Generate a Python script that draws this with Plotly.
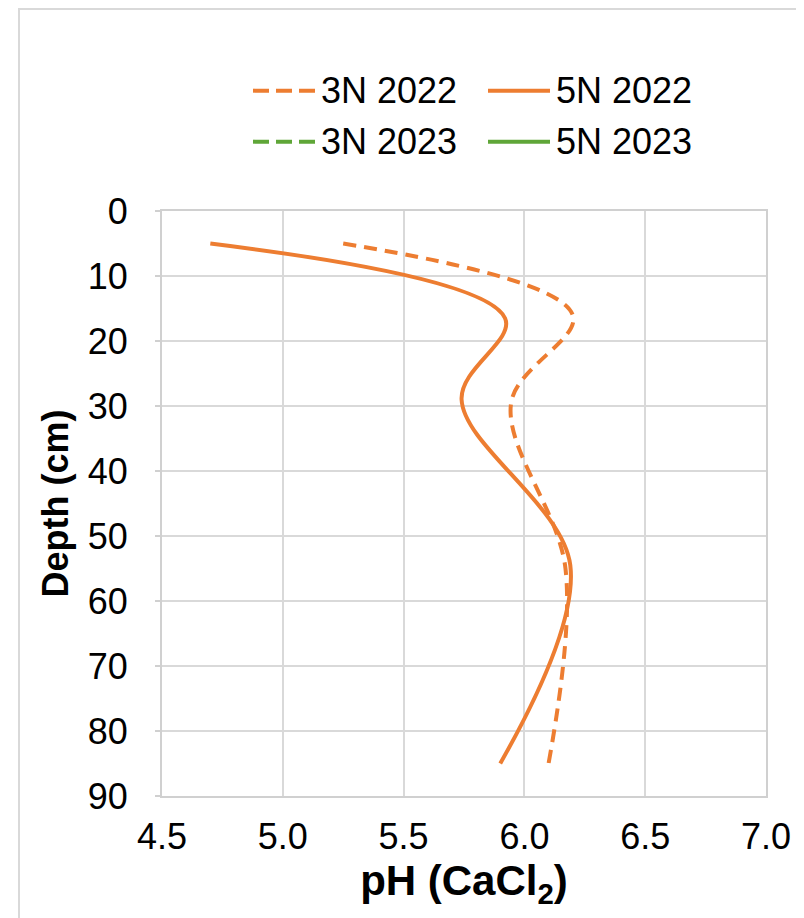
import plotly.graph_objects as go

# ---- data ----
depth_3n_2022 = [5, 16, 29.5, 55, 85]
ph_3n_2022 = [5.25, 6.20, 5.945, 6.17, 6.10]

depth_5n_2022 = [5, 16.5, 29, 54.5, 85]
ph_5n_2022 = [4.70, 5.92, 5.74, 6.19, 5.90]

series_names = ["3N 2022", "5N 2022", "3N 2023", "5N 2023"]
x_ticks = [4.5, 5.0, 5.5, 6.0, 6.5, 7.0]
y_ticks = [0, 10, 20, 30, 40, 50, 60, 70, 80, 90]

ORANGE = "#ED7D31"
GREEN = "#5FA638"
FONT = "Liberation Sans, Arial, sans-serif"

# The page body adds an 8px margin, so figure pixels = page pixels - 8
OFF = 8
W, H = 804 - OFF, 918 - OFF
L, R, T, B = 162 - OFF, 766 - OFF, 211 - OFF, 796 - OFF


def px2paper(px, py):
    """page pixel -> paper coordinate"""
    px -= OFF
    py -= OFF
    return (px - L) / (R - L), (B - py) / (B - T)


fig = go.Figure()
fig.add_trace(go.Scatter(x=ph_3n_2022, y=depth_3n_2022, mode="lines", name=series_names[0],
                         line=dict(color=ORANGE, width=4, dash="13px,8px", shape="spline", smoothing=1.0),
                         showlegend=False))
fig.add_trace(go.Scatter(x=ph_5n_2022, y=depth_5n_2022, mode="lines", name=series_names[1],
                         line=dict(color=ORANGE, width=4, shape="spline", smoothing=1.0),
                         showlegend=False))

shapes = []
annotations = []
# outer chart border
x0, y0 = px2paper(19, 9)
x1, y1 = px2paper(840, 950)
shapes.append(dict(type="rect", xref="paper", yref="paper", x0=x0, y0=y1, x1=x1, y1=y0,
                   line=dict(color="#d9d9d9", width=2), layer="below"))

# manual legend (long line samples as in the reference)
legend_items = [
    (series_names[0], ORANGE, "16px,7px", 253, 90.7),
    (series_names[1], ORANGE, "solid", 488, 90.7),
    (series_names[2], GREEN, "16px,7px", 253, 141.7),
    (series_names[3], GREEN, "solid", 488, 141.7),
]
for name, col, dash, lx, ly in legend_items:
    ax0, ay = px2paper(lx, ly)
    ax1, _ = px2paper(lx + 62, ly)
    shapes.append(dict(type="line", xref="paper", yref="paper", x0=ax0, x1=ax1, y0=ay, y1=ay,
                       line=dict(color=col, width=4, dash=dash)))
    tx, _ = px2paper(lx + 66, ly)
    annotations.append(dict(text=name, xref="paper", yref="paper", x=tx, y=ay, xanchor="left",
                            yanchor="middle", showarrow=False, font=dict(size=36, color="black", family=FONT)))

fig.update_layout(
    width=W, height=H,
    margin=dict(l=L, r=W - R, t=T, b=H - B, autoexpand=False),
    paper_bgcolor="white", plot_bgcolor="white",
    font=dict(family=FONT, color="black"),
    shapes=shapes, annotations=annotations,
    showlegend=False,
)
fig.update_xaxes(range=[4.5, 7.0], tickvals=x_ticks, ticktext=[f"{v:.1f}" for v in x_ticks],
                 showgrid=True, gridcolor="#d9d9d9", gridwidth=1.5,
                 showline=True, linecolor="#d0d0d0", linewidth=2, mirror=True,
                 ticks="", tickfont=dict(size=36), ticklabelstandoff=8,
                 title=dict(text="<b>pH (CaCl<sub>2</sub>)</b>", font=dict(size=42), standoff=0),
                 zeroline=False)
fig.update_yaxes(range=[90, 0], tickvals=y_ticks,
                 showgrid=True, gridcolor="#d9d9d9", gridwidth=1.5,
                 showline=True, linecolor="#d0d0d0", linewidth=2, mirror=True,
                 ticks="outside", ticklen=5, tickcolor="#d0d0d0", tickwidth=1.5,
                 tickfont=dict(size=36), ticklabelstandoff=20,
                 title=dict(text="<b>Depth (cm)</b>", font=dict(size=36), standoff=8),
                 zeroline=False)

fig.write_html("out.html")
